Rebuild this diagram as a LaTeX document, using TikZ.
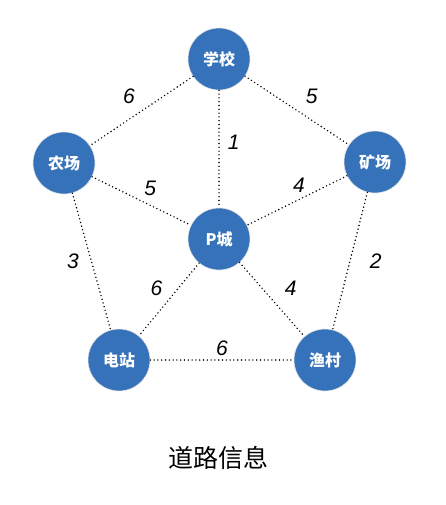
\documentclass[tikz,border=0pt]{standalone}
\usepackage{fontspec}
\setmainfont{Liberation Sans}
\newfontfamily\cjk{Noto Sans CJK SC}
\definecolor{cityblue}{RGB}{53,114,185}

\begin{document}
\begin{tikzpicture}[x=1pt, y=1pt, line join=round, line cap=round,
	city/.style={circle, fill=cityblue, draw=white!80!gray, line width=0.6pt,
		minimum size=62pt, inner sep=0pt, text=white, font=\cjk\bfseries\fontsize{16}{16}\selectfont},
	road/.style={line width=1.6pt, dash pattern=on 0pt off 3.8pt, black},
	num/.style={font=\itshape\fontsize{21}{21}\selectfont, inner sep=2pt}]
	\useasboundingbox (0,0) rectangle (445,-505);
	\node[city] (XX) at (219,-59) {学校};
	\node[city] (NC) at (64,-163) {农场};
	\node[city] (KC) at (375,-162) {矿场};
	\node[city] (PC) at (219,-239) {P城};
	\node[city] (DZ) at (119,-360) {电站};
	\node[city] (YC) at (325,-360) {渔村};
	\draw[road] (XX) -- node[num, above left=4pt] {6} (NC);
	\draw[road] (XX) -- node[num, above right=4pt, xshift=2pt] {5} (KC);
	\draw[road] (XX) -- node[num, right=6pt, yshift=7pt] {1} (PC);
	\draw[road] (NC) -- node[num, above right=2pt, xshift=-2pt] {5} (PC);
	\draw[road] (KC) -- node[num, above=5pt, xshift=2pt] {4} (PC);
	\draw[road] (NC) -- node[num, left=10pt] {3} (DZ);
	\draw[road] (KC) -- node[num, right=17pt] {2} (YC);
	\draw[road] (PC) -- node[num, above left=1pt, xshift=-3pt] {6} (DZ);
	\draw[road] (PC) -- node[num, above right=1pt, xshift=9pt] {4} (YC);
	\draw[road] (DZ) -- node[num, above=1pt] {6} (YC);
	\node[font=\cjk\fontsize{25}{25}\selectfont] (title) at (218,-458) {道路信息};
\end{tikzpicture}
\end{document}
